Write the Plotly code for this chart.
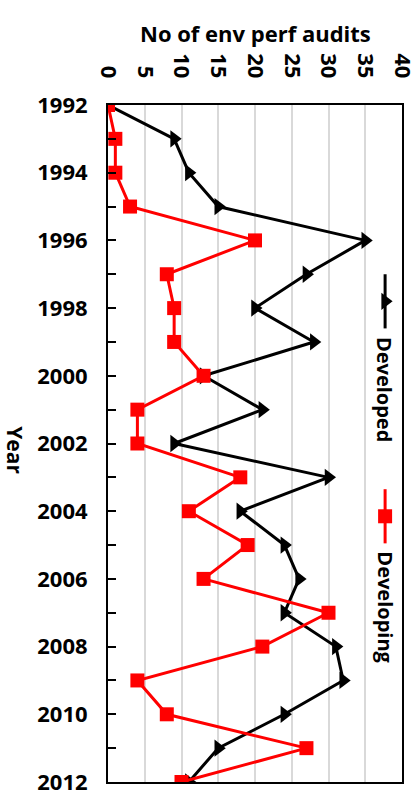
import plotly.graph_objects as go

years = list(range(1992, 2013))
developed = [0, 9, 11, 15, 35, 27, 20, 28, 13, 21, 9, 30, 18, 24, 26, 24, 31, 32, 24, 15, 11]
developing = [0, 1, 1, 3, 20, 8, 9, 9, 13, 4, 4, 18, 11, 19, 13, 30, 21, 4, 8, 27, 10]
x_ticks = [0, 5, 10, 15, 20, 25, 30, 35, 40]
series_names = ["Developed", "Developing"]

FONT = "Open Sans"

fig = go.Figure()
fig.add_trace(go.Scatter(x=developed, y=years, mode="lines+markers", name=series_names[0],
                         line=dict(color="black", width=3),
                         marker=dict(symbol="triangle-right", size=15, color="black")))
fig.add_trace(go.Scatter(x=developing, y=years, mode="lines+markers", name=series_names[1],
                         line=dict(color="#ff0000", width=3),
                         marker=dict(symbol="square", size=14, color="#ff0000")))

fig.update_layout(
    width=419, height=802,
    margin=dict(l=108, r=17, t=105, b=20),
    plot_bgcolor="white", paper_bgcolor="white",
    showlegend=False,
    font=dict(family=FONT, color="black"),
)
fig.update_xaxes(
    side="top", range=[0, 40], tickvals=x_ticks, tickangle=90,
    showgrid=True, gridcolor="#d9d9d9", gridwidth=1.5,
    showline=True, linecolor="black", linewidth=2, mirror=True,
    ticks="", zeroline=False, automargin=False,
    tickfont=dict(family=FONT, size=22, weight="bold"),
    ticklabelstandoff=17,
)
fig.update_yaxes(
    range=[2012, 1992], dtick=2, tick0=1992,
    showgrid=False, zeroline=False, automargin=False,
    showline=True, linecolor="black", linewidth=2, mirror=True,
    ticks="inside", ticklen=8, tickwidth=2, tickcolor="black",
    minor=dict(dtick=1, ticks="inside", ticklen=8, tickwidth=2, tickcolor="black"),
    tickfont=dict(family=FONT, size=22, weight="bold"),
    ticklabelstandoff=14,
)

fig.add_annotation(text="<b>No of env perf audits</b>", xref="paper", yref="paper",
                   x=0.5, y=1, yshift=72, showarrow=False,
                   font=dict(family=FONT, size=22), yanchor="middle")
fig.add_annotation(text="<b>Year</b>", xref="paper", yref="paper", x=0, xshift=-93,
                   y=0.49, showarrow=False, textangle=90,
                   font=dict(family=FONT, size=21), xanchor="center")

# Legend (rotated)
leg_x = 37.7
leg_items = [
    (series_names[0], 1997.8, "black", "triangle-right", 15),
    (series_names[1], 2004.15, "#ff0000", "square", 14),
]
for name, yc, col, sym, sz in leg_items:
    fig.add_shape(type="line", x0=leg_x, x1=leg_x, y0=yc - 0.8, y1=yc + 0.8,
                  xref="x", yref="y", line=dict(color=col, width=3))
    fig.add_trace(go.Scatter(x=[leg_x], y=[yc], mode="markers", showlegend=False,
                             hoverinfo="skip",
                             marker=dict(symbol=sym, size=sz, color=col)))
    fig.add_annotation(text="<b>%s</b>" % name, x=leg_x, y=yc + 0.98, xref="x", yref="y",
                       showarrow=False, textangle=90, yanchor="top", xanchor="center",
                       font=dict(family=FONT, size=20))

fig.write_html("out.html")
